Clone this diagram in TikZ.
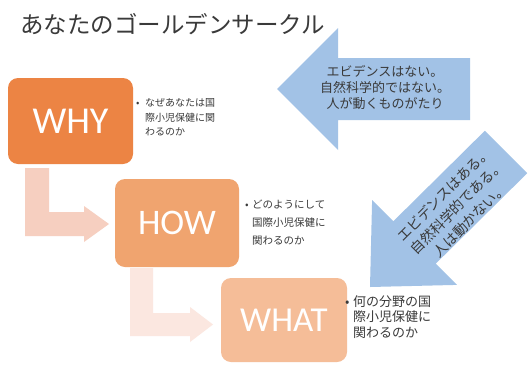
\documentclass[tikz,border=0pt]{standalone}
\usepackage{fontspec}
\newfontfamily\jpfont{Noto Sans CJK JP}
\newfontfamily\calfont{Carlito}
\definecolor{whyc}{HTML}{EC8444}
\definecolor{howc}{HTML}{F0A46F}
\definecolor{whatc}{HTML}{F5BD98}
\definecolor{pinkA}{HTML}{F6CFC0}
\definecolor{pinkB}{HTML}{FBE7E0}
\definecolor{bluec}{HTML}{A2C2E6}
\definecolor{txt}{HTML}{3A3A3A}
\begin{document}
\begin{tikzpicture}[x=1pt,y=-1pt,
  box/.style={rounded corners=10pt, inner sep=0pt, text=white},
  bul/.style={anchor=base west, inner sep=0pt, text=txt},
  bigtxt/.style={inner sep=0pt, text=txt, align=center}]
\useasboundingbox (0,0) rectangle (532,367);
\fill[white] (0,0) rectangle (532,367);
% title
\node[anchor=west, inner sep=0pt, text=txt, font=\jpfont\fontsize{23.5}{28}\selectfont] (title) at (20,24) {あなたのゴールデンサークル};
% bent arrows
\fill[pinkA] (25,168) -- (49,168) -- (49,212) -- (84,212) -- (84,206) -- (109,224) -- (84,242) -- (84,236) -- (25,236) -- cycle;
\fill[pinkB] (130,268) -- (153,268) -- (153,313) -- (190,313) -- (190,307) -- (213,324.5) -- (190,342) -- (190,336) -- (130,336) -- cycle;
% boxes
\node[box, fill=whyc, minimum width=125pt, minimum height=86pt, font=\calfont\fontsize{38}{40}\selectfont] (why) at (70.5,121) {WHY};
\node[box, fill=howc, minimum width=124pt, minimum height=88pt, font=\calfont\fontsize{36}{40}\selectfont] (how) at (177,223) {HOW};
\node[box, fill=whatc, minimum width=126pt, minimum height=84pt, font=\calfont\fontsize{35}{40}\selectfont] (what) at (284,320) {WHAT};
% bullet texts WHY
\begin{scope}[font=\jpfont\fontsize{10}{12}\selectfont]
\node[bul] (b1) at (136,106.8) {•};
\node[bul] (w1) at (145,106.8) {なぜあなたは国};
\node[bul] (w2) at (145,121.3) {際小児保健に関};
\node[bul] (w3) at (145,135.8) {わるのか};
\end{scope}
\begin{scope}[font=\jpfont\fontsize{10.5}{12}\selectfont]
\node[bul] (b2) at (245,208) {•};
\node[bul] (h1) at (252,208) {どのようにして};
\node[bul] (h2) at (252,226) {国際小児保健に};
\node[bul] (h3) at (252,244) {関わるのか};
\end{scope}
\begin{scope}[font=\jpfont\fontsize{13}{15}\selectfont]
\node[bul] (b3) at (345,306) {•};
\node[bul] (t1) at (353,306) {何の分野の国};
\node[bul] (t2) at (353,321.5) {際小児保健に};
\node[bul] (t3) at (353,337) {関わるのか};
\end{scope}
% blue arrow 1 (left)
\fill[bluec] (277,89) -- (338,28) -- (338,58) -- (470,58) -- (470,120) -- (338,120) -- (338,150) -- cycle;
\node[bigtxt, font=\jpfont\fontsize{13}{16}\selectfont] (ev1) at (385,88) {エビデンスはない。\\自然科学的ではない。\\人が動くものがたり};
% blue arrow 2 (diagonal)
\fill[bluec] (370,287) -- (372.1,200.1) -- (393.3,221.3) -- (484.8,130.8) -- (527.2,173.2) -- (435.7,263.7) -- (456.9,284.9) -- cycle;
\node[bigtxt, rotate=45, font=\jpfont\fontsize{14}{18.5}\selectfont] (ev2) at (457,207) {エビデンスはある。\\自然科学的である。\\人は動かない。};
\end{tikzpicture}
\end{document}
